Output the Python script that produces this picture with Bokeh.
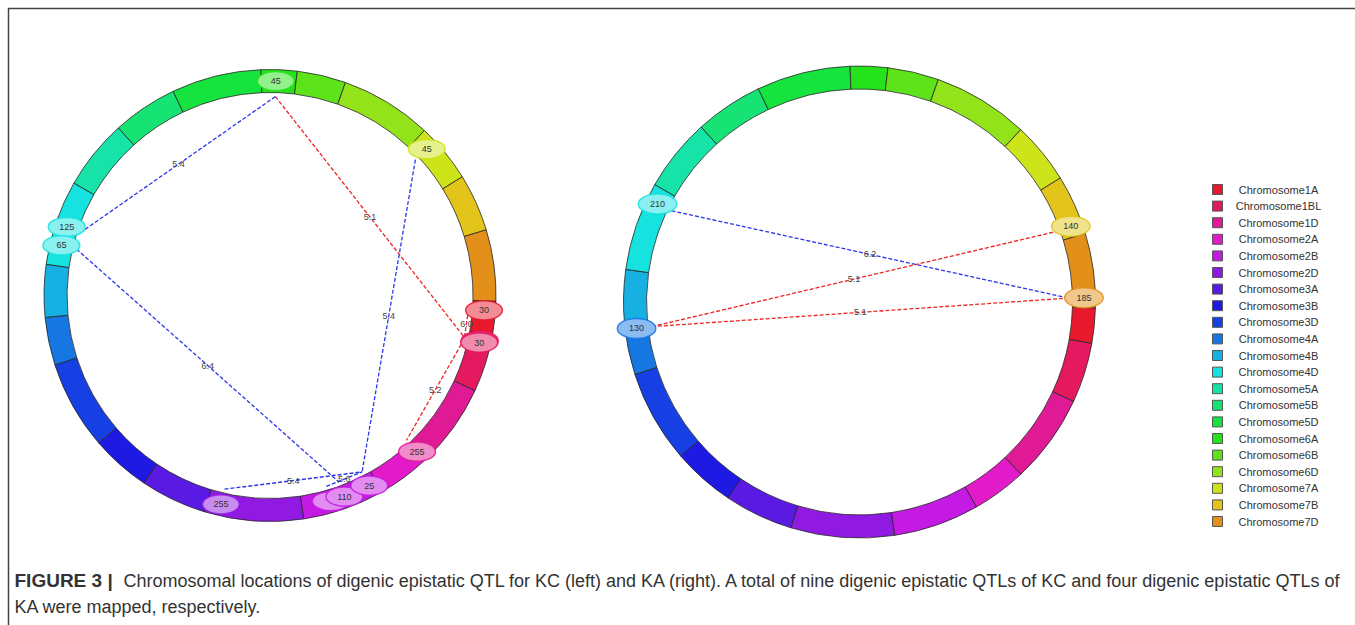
import math
from bokeh.plotting import figure
from bokeh.models import Range1d
from bokeh.core.properties import value
from bokeh.embed import file_html
from bokeh.resources import INLINE

W, H = 1355, 625
FONT = "Liberation Sans"

# Wheat linkage groups, drawn clockwise from 3 o'clock; lengths in cM
chromosomes = ["1A", "1BL", "1D", "2A", "2B", "2D", "3A", "3B", "3D", "4A", "4B",
               "4D", "5A", "5B", "5D", "6A", "6B", "6D", "7A", "7B", "7D"]
chrom_length_cm = [102, 173, 257, 157, 247, 298, 199, 180, 267, 144, 158,
                   256, 211, 196, 270, 108, 147, 276, 178, 173, 214]
chrom_colors = ["#e8192c", "#e5195f", "#e01a95", "#e31ac9", "#c41ae3", "#911ae3",
                "#5a1ae3", "#1e19e3", "#1640e3", "#1677e3", "#16b0e3", "#16e3e0",
                "#16e3a8", "#16e373", "#16e33e", "#25e31a", "#5ee31a", "#93e31a",
                "#cde31a", "#e3c41a", "#e3901a"]

# KC: QTL markers (chromosome, position in cM), drawn back to front;
# markers hidden under another one carry no visible label
kc_marker_chrom = ["6A", "7A", "4D", "4D", "1A", "1BL", "1BL", "1BL", "1D", "2D", "2B", "2B", "2B"]
kc_marker_pos = [45, 45, 125, 65, 30, 24, 27, 30, 255, 255, 155, 110, 25]
kc_marker_labelled = [True, True, True, True, True, False, False, True, True, True, False, True, True]

# KC: digenic epistatic interactions (LOD)
kc_from_chrom = ["6A", "6A", "7A", "4D", "2D", "1BL", "1A", "2B"]
kc_from_pos = [45, 45, 45, 65, 255, 30, 30, 155]
kc_to_chrom = ["4D", "1BL", "2B", "2B", "2B", "1D", "1BL", "2B"]
kc_to_pos = [125, 24, 25, 110, 25, 255, 27, 25]
kc_lod = ["5.4", "5.1", "5.4", "6.4", "5.4", "5.2", "6.0", "5.6"]
kc_kind = ["blue", "red", "blue", "blue", "blue", "red", "red", "blue"]

# KA: QTL markers
ka_marker_chrom = ["4D", "7B", "7D", "4A"]
ka_marker_pos = [210, 140, 185, 130]
ka_marker_labelled = [True, True, True, True]

# KA: digenic epistatic interactions (LOD)
ka_from_chrom = ["4D", "4A", "4A"]
ka_from_pos = [210, 130, 130]
ka_to_chrom = ["7D", "7B", "7D"]
ka_to_pos = [185, 140, 185]
ka_lod = ["6.2", "5.1", "5.1"]
ka_kind = ["blue", "red", "red"]

caption_bold = "FIGURE 3 |"
caption_line1 = ("Chromosomal locations of digenic epistatic QTL for KC (left) and KA (right). "
                 "A total of nine digenic epistatic QTLs of KC and four digenic epistatic QTLs of")
caption_line2 = "KA were mapped, respectively."

LINK_COLORS = {"blue": "#2b36e8", "red": "#ee2424"}
RING_START = 1.4  # degrees clockwise from east where 1A begins
DEG_PER_CM = 360.0 / sum(chrom_length_cm)
cum = [0]
for L in chrom_length_cm[:-1]:
    cum.append(cum[-1] + L)


def angle_of(chrom, pos):
    i = chromosomes.index(chrom)
    return RING_START + (cum[i] + pos) * DEG_PER_CM


def point(cx, cy, r, a_deg):
    a = math.radians(a_deg)
    return cx + r * math.cos(a), H - (cy + r * math.sin(a))


def tint(hex_color, t):
    h = hex_color.lstrip("#")
    rgb = [int(h[k:k + 2], 16) for k in (0, 2, 4)]
    mixed = [round(c + (255 - c) * t) for c in rgb]
    return "#%02x%02x%02x" % tuple(mixed)


p = figure(width=W, height=H, x_range=Range1d(0, W), y_range=Range1d(0, H),
           output_backend="svg", toolbar_location=None, min_border=0)
p.axis.visible = False
p.grid.visible = False
p.outline_line_color = None
p.background_fill_color = "white"


def draw_circle(cx, cy, r_out, m_chrom, m_pos, m_lab, f_chrom, f_pos, t_chrom, t_pos, lods, kinds):
    r_in = r_out - 23
    r_mark = r_out - 11.5
    r_link = r_in - 4
    starts, ends = [], []
    for i, L in enumerate(chrom_length_cm):
        a0 = RING_START + cum[i] * DEG_PER_CM
        a1 = a0 + L * DEG_PER_CM
        starts.append(math.radians(-a1))
        ends.append(math.radians(-a0))
    p.annular_wedge(x=cx, y=H - cy, inner_radius=r_in, outer_radius=r_out,
                    start_angle=starts, end_angle=ends, fill_color=chrom_colors,
                    line_color="#262626", line_width=0.8)

    # interaction links
    for fc, fp, tc, tp, lod, kind in zip(f_chrom, f_pos, t_chrom, t_pos, lods, kinds):
        x0, y0 = point(cx, cy, r_link, angle_of(fc, fp))
        x1, y1 = point(cx, cy, r_link, angle_of(tc, tp))
        p.line([x0, x1], [y0, y1], line_color=LINK_COLORS[kind], line_width=1.3,
               line_dash="4 2")
        p.text(x=[(x0 + x1) / 2], y=[(y0 + y1) / 2], text=[lod],
               text_font=value(FONT), text_font_size="9px", text_color="#444444",
               text_align="center", text_baseline="middle")

    # QTL markers
    ew = r_out * 0.163
    for c, pos, lab in zip(m_chrom, m_pos, m_lab):
        col = chrom_colors[chromosomes.index(c)]
        x, y = point(cx, cy, r_mark, angle_of(c, pos))
        p.ellipse(x=[x], y=[y], width=ew, height=ew * 0.52, fill_color=tint(col, 0.5),
                  line_color=col, line_width=1.5, line_alpha=0.85)
        if lab:
            p.text(x=[x], y=[y], text=[str(pos)], text_font=value(FONT),
                   text_font_size="9px", text_color="#333333", text_align="center",
                   text_baseline="middle")


draw_circle(269.5, 295, 226, kc_marker_chrom, kc_marker_pos, kc_marker_labelled,
            kc_from_chrom, kc_from_pos, kc_to_chrom, kc_to_pos, kc_lod, kc_kind)
draw_circle(859, 301.5, 236, ka_marker_chrom, ka_marker_pos, ka_marker_labelled,
            ka_from_chrom, ka_from_pos, ka_to_chrom, ka_to_pos, ka_lod, ka_kind)

# legend
leg_y = [H - (189 + i * 16.6) for i in range(len(chromosomes))]
p.rect(x=[1217] * len(chromosomes), y=leg_y, width=10, height=10,
       fill_color=chrom_colors, line_color="#555555", line_width=1)
p.text(x=[1278] * len(chromosomes), y=leg_y, text=["Chromosome" + c for c in chromosomes],
       text_font=value(FONT), text_font_size="11px", text_color="#333333",
       text_align="center", text_baseline="middle")

# frame
p.line([8, 8, W], [0, H - 8, H - 8], line_color="#444444", line_width=1.5)

# caption
p.text(x=[14], y=[H - 580], text=[caption_bold], text_font=value(FONT),
       text_font_size="19px", text_font_style="bold", text_color="#333333",
       text_align="left", text_baseline="middle")
p.text(x=[123], y=[H - 580], text=[caption_line1], text_font=value(FONT),
       text_font_size="18px", text_color="#333333", text_align="left",
       text_baseline="middle")
p.text(x=[14], y=[H - 606], text=[caption_line2], text_font=value(FONT),
       text_font_size="18px", text_color="#333333", text_align="left",
       text_baseline="middle")

open("out.html", "w").write(file_html(p, INLINE))
